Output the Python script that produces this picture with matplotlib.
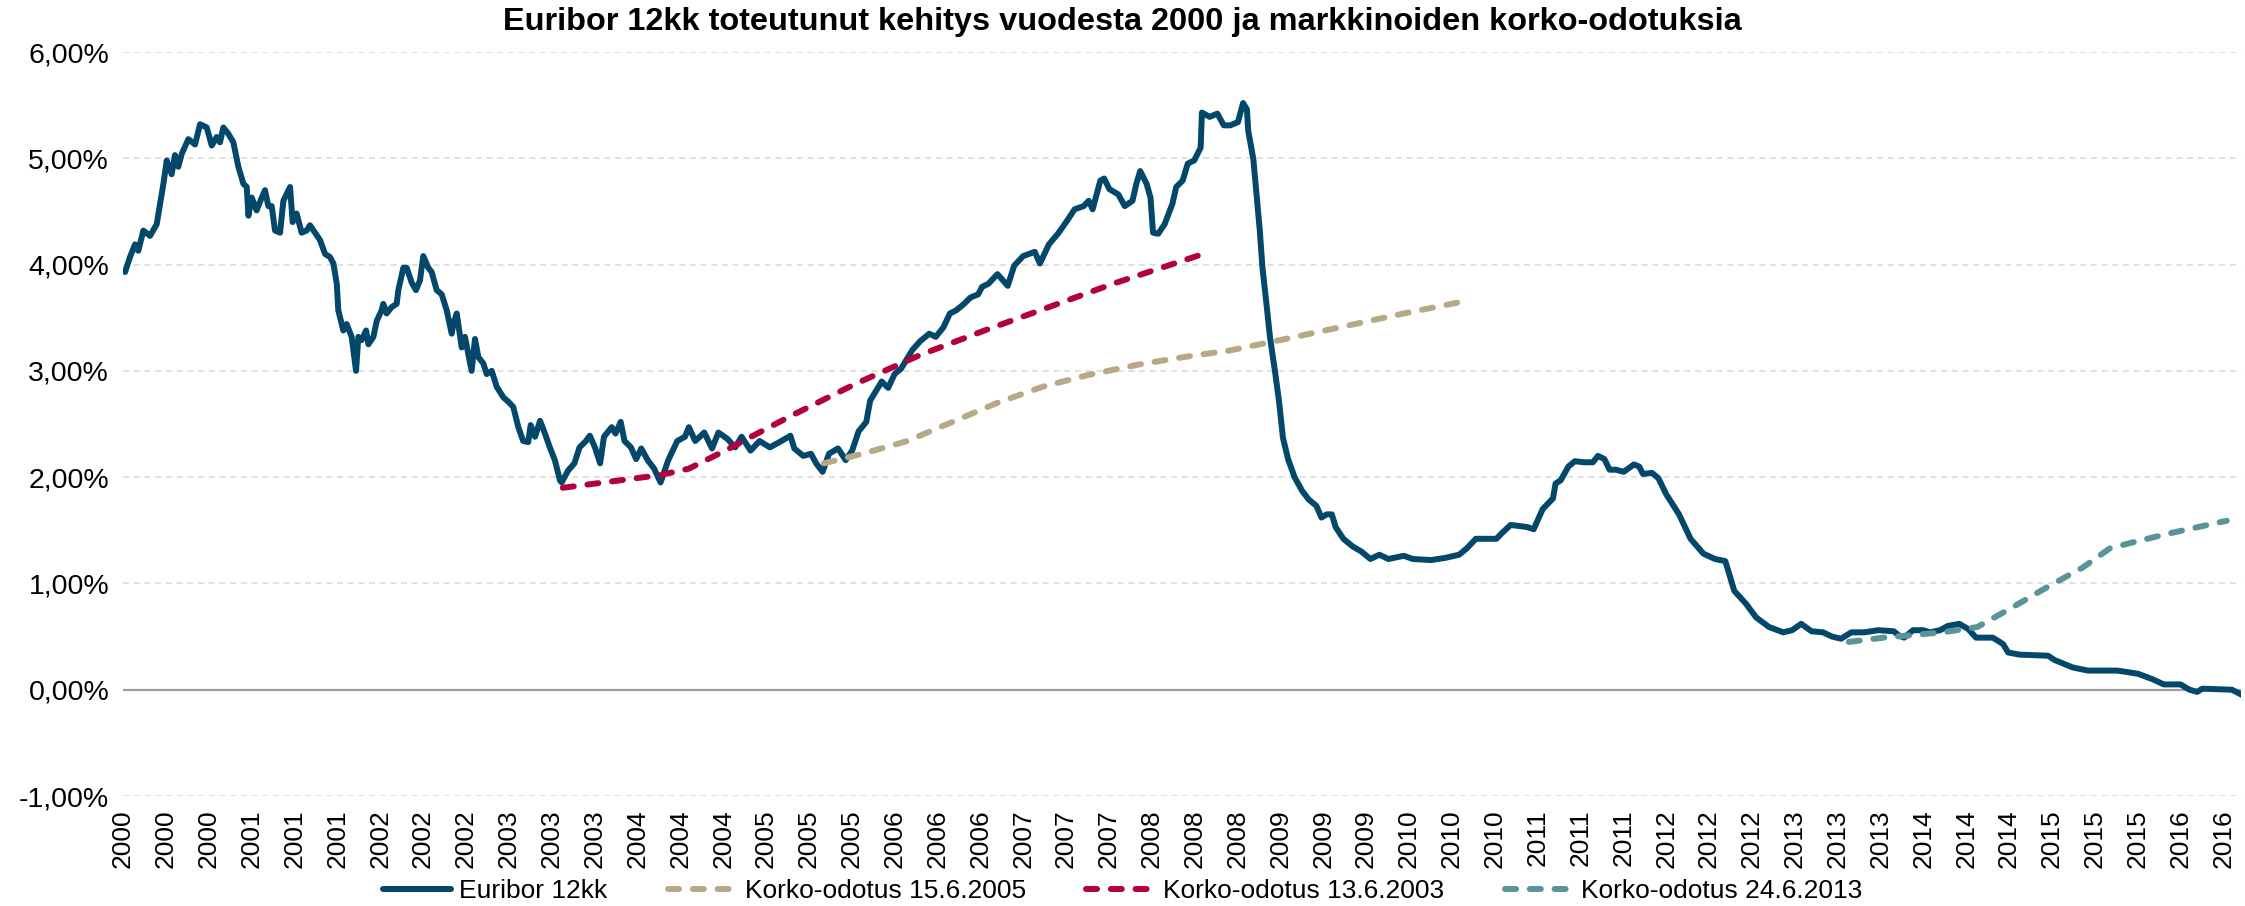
import matplotlib
matplotlib.use("Agg")
import matplotlib.pyplot as plt
import numpy as np

plt.rcParams['font.family'] = ['Liberation Sans', 'DejaVu Sans']

# ---------------- data (decimal years, percent) ----------------
euribor_year = [
    2000.016, 2000.054, 2000.093, 2000.119, 2000.158, 2000.210, 2000.262, 2000.288, 2000.314, 2000.340,
    2000.378, 2000.404, 2000.430, 2000.456, 2000.508, 2000.560, 2000.599, 2000.651, 2000.690, 2000.728,
    2000.754, 2000.780, 2000.819, 2000.858, 2000.897, 2000.936, 2000.962, 2000.975, 2001.001, 2001.039,
    2001.065, 2001.104, 2001.130, 2001.156, 2001.182, 2001.221, 2001.247, 2001.299, 2001.319, 2001.350,
    2001.389, 2001.428, 2001.454, 2001.493, 2001.532, 2001.571, 2001.610, 2001.636, 2001.662, 2001.674,
    2001.713, 2001.739, 2001.778, 2001.812, 2001.830, 2001.856, 2001.890, 2001.908, 2001.947, 2001.973,
    2002.011, 2002.024, 2002.050, 2002.089, 2002.128, 2002.141, 2002.180, 2002.206, 2002.245, 2002.278,
    2002.309, 2002.335, 2002.374, 2002.400, 2002.439, 2002.478, 2002.517, 2002.556, 2002.569, 2002.595,
    2002.634, 2002.659, 2002.711, 2002.737, 2002.763, 2002.802, 2002.828, 2002.867, 2002.906, 2002.958,
    2002.996, 2003.035, 2003.074, 2003.112, 2003.151, 2003.170, 2003.204, 2003.243, 2003.281, 2003.319,
    2003.358, 2003.398, 2003.411,
    2003.46, 2003.51, 2003.55, 2003.60, 2003.63, 2003.67, 2003.71, 2003.74, 2003.80, 2003.83,
    2003.87, 2003.90, 2003.95, 2003.99, 2004.03, 2004.08, 2004.13, 2004.18, 2004.24, 2004.31,
    2004.37, 2004.40, 2004.45, 2004.52, 2004.58, 2004.63, 2004.70, 2004.76, 2004.81, 2004.88,
    2004.95, 2005.03, 2005.12, 2005.19, 2005.22, 2005.29, 2005.35, 2005.39, 2005.44, 2005.49,
    2005.56, 2005.62, 2005.67, 2005.72, 2005.78, 2005.81, 2005.85, 2005.90, 2005.95, 2006.00,
    2006.05, 2006.09, 2006.14, 2006.20, 2006.27, 2006.32, 2006.38, 2006.43, 2006.48, 2006.54,
    2006.59, 2006.65, 2006.68, 2006.73, 2006.80, 2006.88, 2006.93, 2007.00, 2007.09, 2007.13,
    2007.20, 2007.27, 2007.34, 2007.40, 2007.47, 2007.51, 2007.54, 2007.60, 2007.63, 2007.67,
    2007.74, 2007.79, 2007.85, 2007.88, 2007.91, 2007.96, 2007.99, 2008.01, 2008.05, 2008.10,
    2008.16, 2008.19, 2008.24, 2008.28, 2008.33, 2008.38, 2008.39, 2008.45, 2008.51, 2008.56,
    2008.61, 2008.67, 2008.71,
    2008.74, 2008.75, 2008.79, 2008.81, 2008.84, 2008.86, 2008.89, 2008.92, 2008.96, 2008.99,
    2009.02, 2009.06, 2009.11, 2009.17, 2009.22, 2009.28, 2009.32, 2009.36, 2009.40, 2009.43,
    2009.49, 2009.56, 2009.63, 2009.70, 2009.77, 2009.84, 2009.96, 2010.03, 2010.17, 2010.28,
    2010.39, 2010.45, 2010.52, 2010.58, 2010.68, 2010.72, 2010.79, 2010.86, 2010.92, 2010.97,
    2011.04, 2011.12, 2011.14, 2011.18, 2011.24, 2011.29, 2011.36, 2011.43, 2011.47, 2011.52,
    2011.56, 2011.61, 2011.67, 2011.75, 2011.79, 2011.82, 2011.89, 2011.94, 2012.00, 2012.10,
    2012.19, 2012.29, 2012.38, 2012.46,
    2012.49, 2012.53, 2012.62, 2012.70, 2012.80, 2012.91, 2012.98, 2013.05, 2013.13, 2013.22,
    2013.29, 2013.36, 2013.44, 2013.54, 2013.65, 2013.77, 2013.81, 2013.85, 2013.92, 2014.00,
    2014.05, 2014.13, 2014.19, 2014.28, 2014.35, 2014.41, 2014.54, 2014.62, 2014.66, 2014.75,
    2014.97, 2015.02, 2015.16, 2015.28, 2015.51, 2015.67, 2015.78, 2015.87, 2016.00, 2016.07,
    2016.13, 2016.17, 2016.40, 2016.48,
]
euribor_value = [
    3.93, 4.07, 4.19, 4.13, 4.32, 4.27, 4.38, 4.57, 4.76, 4.98,
    4.85, 5.03, 4.92, 5.04, 5.18, 5.13, 5.32, 5.29, 5.12, 5.20,
    5.15, 5.29, 5.23, 5.15, 4.92, 4.76, 4.73, 4.46, 4.63, 4.51,
    4.59, 4.70, 4.55, 4.55, 4.32, 4.30, 4.60, 4.73, 4.40, 4.48,
    4.30, 4.32, 4.37, 4.30, 4.23, 4.10, 4.07, 4.01, 3.82, 3.57,
    3.38, 3.44, 3.32, 3.00, 3.32, 3.29, 3.38, 3.25, 3.32, 3.47,
    3.57, 3.63, 3.54, 3.60, 3.63, 3.76, 3.97, 3.97, 3.83, 3.76,
    3.85, 4.08, 3.97, 3.93, 3.76, 3.72, 3.57, 3.35, 3.44, 3.54,
    3.22, 3.32, 3.00, 3.30, 3.13, 3.07, 2.97, 3.00, 2.85, 2.75,
    2.71, 2.66, 2.47, 2.34, 2.33, 2.49, 2.38, 2.53, 2.41, 2.28,
    2.16, 1.97, 1.95,
    2.06, 2.13, 2.28, 2.34, 2.39, 2.28, 2.13, 2.38, 2.47, 2.41,
    2.52, 2.34, 2.28, 2.17, 2.27, 2.16, 2.08, 1.95, 2.16, 2.34,
    2.38, 2.47, 2.34, 2.42, 2.27, 2.42, 2.36, 2.28, 2.38, 2.25,
    2.34, 2.28, 2.34, 2.39, 2.27, 2.20, 2.22, 2.13, 2.05, 2.22,
    2.27, 2.16, 2.25, 2.43, 2.52, 2.72, 2.80, 2.90, 2.84, 2.97,
    3.02, 3.10, 3.20, 3.28, 3.35, 3.32, 3.41, 3.54, 3.57, 3.63,
    3.69, 3.72, 3.79, 3.82, 3.91, 3.80, 3.99, 4.08, 4.12, 4.01,
    4.19, 4.29, 4.41, 4.52, 4.55, 4.60, 4.52, 4.79, 4.81, 4.71,
    4.66, 4.55, 4.60, 4.76, 4.88, 4.76, 4.63, 4.30, 4.29, 4.38,
    4.57, 4.73, 4.79, 4.95, 4.98, 5.10, 5.43, 5.39, 5.42, 5.31,
    5.31, 5.34, 5.52,
    5.46, 5.26, 4.99, 4.72, 4.32, 3.98, 3.65, 3.31, 2.98, 2.71,
    2.37, 2.17, 2.00, 1.87, 1.79, 1.73, 1.62, 1.65, 1.65, 1.53,
    1.42, 1.35, 1.30, 1.23, 1.27, 1.23, 1.26, 1.23, 1.22, 1.24,
    1.27, 1.33, 1.42, 1.42, 1.42, 1.47, 1.55, 1.54, 1.53, 1.51,
    1.70, 1.80, 1.94, 1.97, 2.10, 2.15, 2.14, 2.14, 2.20, 2.17,
    2.07, 2.07, 2.05, 2.12, 2.10, 2.03, 2.04, 1.99, 1.84, 1.65,
    1.42, 1.28, 1.23, 1.21,
    1.09, 0.93, 0.81, 0.68, 0.59, 0.54, 0.56, 0.62, 0.55, 0.54,
    0.50, 0.48, 0.54, 0.54, 0.56, 0.55, 0.51, 0.49, 0.56, 0.56,
    0.54, 0.56, 0.60, 0.62, 0.57, 0.49, 0.49, 0.43, 0.35, 0.33,
    0.32, 0.28, 0.21, 0.18, 0.18, 0.15, 0.10, 0.05, 0.05, 0.00,
    -0.02, 0.01, 0.00, -0.05,
]

f2005_year = [2005.45, 2005.75, 2006.10, 2006.45, 2006.80, 2007.15, 2007.50, 2007.90,
              2008.25, 2008.60, 2009.00, 2009.50, 2010.00, 2010.41]
f2005_value = [2.13, 2.22, 2.34, 2.52, 2.70, 2.85, 2.96, 3.06, 3.13, 3.19, 3.29, 3.42, 3.55, 3.65]

f2003_year = [2003.42, 2003.80, 2004.18, 2004.40, 2004.70, 2004.90, 2005.20, 2005.70,
              2006.20, 2006.70, 2007.20, 2007.70, 2008.10, 2008.40]
f2003_value = [1.90, 1.96, 2.02, 2.08, 2.26, 2.39, 2.58, 2.88, 3.15, 3.38, 3.60, 3.82, 3.98, 4.10]

f2013_year = [2013.42, 2013.69, 2013.88, 2014.15, 2014.42, 2014.70, 2014.97, 2015.24,
              2015.45, 2015.64, 2015.91, 2016.36]
f2013_value = [0.45, 0.49, 0.51, 0.54, 0.59, 0.78, 0.97, 1.15, 1.33, 1.39, 1.47, 1.59]

series_labels = ["Euribor 12kk", "Korko-odotus 15.6.2005", "Korko-odotus 13.6.2003",
                 "Korko-odotus 24.6.2013"]
title = "Euribor 12kk toteutunut kehitys vuodesta 2000 ja markkinoiden korko-odotuksia"
y_ticks = [-1, 0, 1, 2, 3, 4, 5, 6]
x_start, x_end = 2000.0, 2016.47
label_every_years = 1 / 3

# ---------------- figure ----------------
fig = plt.figure(figsize=(22.45, 9.06), dpi=100)
ax = fig.add_axes([0.0548, 0.1214, 0.9434, 0.8212])

c_blue = '#03476B'
c_tan = '#B7A985'
c_red = '#B3003E'
c_teal = '#5B9498'
lw = 4.3
dash = (0, (1.85, 2.3))

ax.plot(euribor_year, euribor_value, color=c_blue, lw=lw, solid_joinstyle='round',
        solid_capstyle='round', zorder=3, label=series_labels[0])
ax.plot(f2005_year, f2005_value, color=c_tan, lw=lw, linestyle=dash, dash_capstyle='round',
        zorder=4, label=series_labels[1])
ax.plot(f2003_year, f2003_value, color=c_red, lw=lw, linestyle=dash, dash_capstyle='round',
        zorder=5, label=series_labels[2])
ax.plot(f2013_year, f2013_value, color=c_teal, lw=lw, linestyle=dash, dash_capstyle='round',
        zorder=6, label=series_labels[3])

ax.set_xlim(x_start, x_end)
ax.set_ylim(-1, 6)

ax.set_yticks(y_ticks)
ax.set_yticklabels([f"{v:.2f}".replace('.', ',') + '%' for v in y_ticks], fontsize=20.5)

xt = np.arange(x_start, x_end, label_every_years)
ax.set_xticks(xt)
ax.set_xticklabels([str(int(t + 1e-6)) for t in xt], rotation=90, fontsize=19,
                   va='top', ha='center')

ax.tick_params(axis='both', length=0, colors='black')
ax.tick_params(axis='x', pad=9.5)
ax.tick_params(axis='y', pad=10)

for s in ax.spines.values():
    s.set_visible(False)

ax.yaxis.grid(True, color='#D9D9D9', linestyle=(0, (4, 3)), lw=1.1, zorder=0)
ax.set_axisbelow(True)
ax.axhline(0, color='#A0A0A0', lw=1.6, zorder=1.5)

fig.text(0.5, 0.976, title, ha='center', va='center', fontsize=23.4, fontweight='bold')

leg = fig.legend(loc='center', bbox_to_anchor=(0.5, 0.0165), ncol=4, frameon=False,
                 fontsize=19, handlelength=2.6, handletextpad=0.3, columnspacing=2.3,
                 borderaxespad=0)

fig.savefig('out.png', dpi=100)
